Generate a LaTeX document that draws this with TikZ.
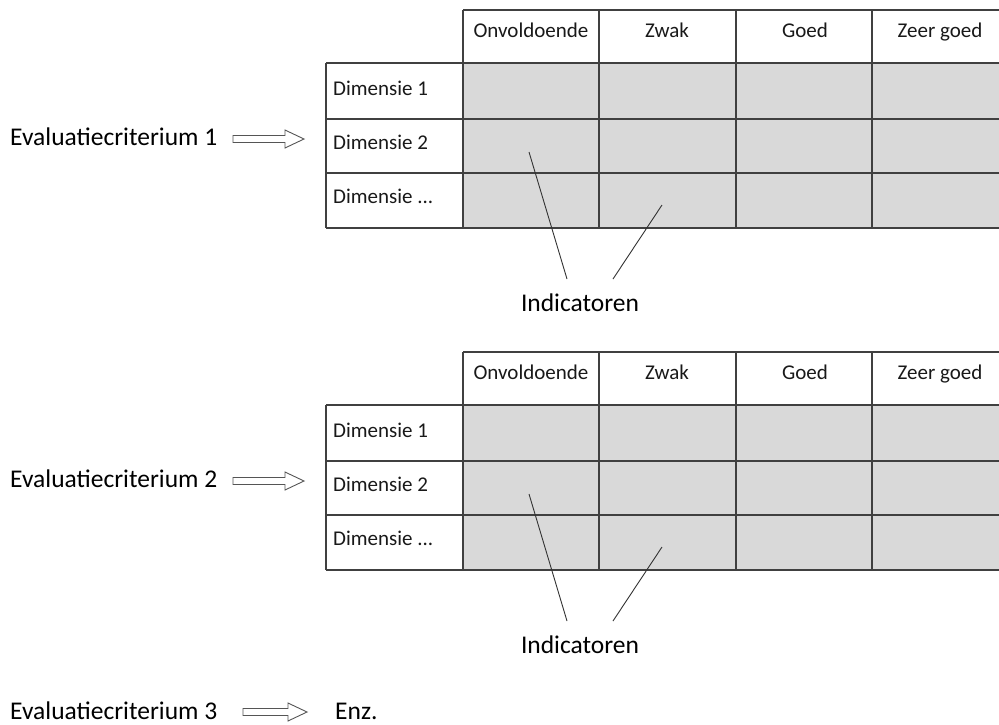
\documentclass[tikz,border=0pt]{standalone}
\usepackage{fontspec}
\setmainfont{Carlito}
\definecolor{cellgray}{HTML}{D9D9D9}
\definecolor{gridline}{HTML}{404040}
\definecolor{arrowline}{HTML}{555555}
\tikzset{
  gridpen/.style={draw=gridline,line width=1.4pt},
  hdr/.style={anchor=base,inner sep=0pt,font=\fontsize{21}{25}\selectfont,text=black!90},
  dimtxt/.style={anchor=base west,inner sep=0pt,font=\fontsize{21}{25}\selectfont,text=black!90},
  bigtxt/.style={anchor=base west,inner sep=0pt,font=\fontsize{25.5}{30}\selectfont},
  indtxt/.style={anchor=base,inner sep=0pt,font=\fontsize{25.5}{30}\selectfont},
  pointer/.style={draw=black!80,line width=0.9pt},
  hollowarrow/.style={draw=arrowline,line width=0.9pt,fill=white,line join=miter}
}
\newcommand\rubrictable[2]{%
  \begin{scope}[shift={(0,#2)}]
    \fill[cellgray] (463,63) rectangle (1008,228);
    \draw[gridpen] (463,10) -- (1008,10);
    \draw[gridpen] (326,63) -- (1008,63);
    \draw[gridpen] (326,119) -- (1008,119);
    \draw[gridpen] (326,173) -- (1008,173);
    \draw[gridpen] (326,228) -- (1008,228);
    \draw[gridpen] (326,63) -- (326,228);
    \draw[gridpen] (463,10) -- (463,228);
    \draw[gridpen] (599,10) -- (599,228);
    \draw[gridpen] (736,10) -- (736,228);
    \draw[gridpen] (872,10) -- (872,228);
    \node[hdr] (#1h1) at (531,37) {Onvoldoende};
    \node[hdr] (#1h2) at (667,37) {Zwak};
    \node[hdr] (#1h3) at (805,37) {Goed};
    \node[hdr] (#1h4) at (940,37) {Zeer goed};
    \node[dimtxt] (#1d1) at (333,95) {Dimensie 1};
    \node[dimtxt] (#1d2) at (333,149) {Dimensie 2};
    \node[dimtxt] (#1d3) at (333,203) {Dimensie ...};
    \node[indtxt] (#1ind) at (580,311) {Indicatoren};
    \coordinate (#1pa) at (529,152);
    \coordinate (#1pb) at (662,205);
    \coordinate (#1qa) at (567,279);
    \coordinate (#1qb) at (613,279);
    \draw[pointer] (#1pa) -- (#1qa);
    \draw[pointer] (#1pb) -- (#1qb);
  \end{scope}%
}
\newcommand\hollowarrowat[3]{% x start, x tip, y center
  \draw[hollowarrow] (#1,#3-3.5) -- (#2-19,#3-3.5) -- (#2-19,#3-9) -- (#2,#3) -- (#2-19,#3+9) -- (#2-19,#3+3.5) -- (#1,#3+3.5) -- cycle;
}
\begin{document}
\begin{tikzpicture}[x=1pt,y=-1pt]
  \useasboundingbox (0,0) rectangle (999,724);
  \fill[white] (0,0) rectangle (999,724);
  \rubrictable{a}{0}
  \rubrictable{b}{342}
  \node[bigtxt] (crit1) at (10,145) {Evaluatiecriterium 1};
  \node[bigtxt] (crit2) at (10,487) {Evaluatiecriterium 2};
  \node[bigtxt] (crit3) at (10,719) {Evaluatiecriterium 3};
  \node[bigtxt] (enz) at (335,719) {Enz.};
  \hollowarrowat{233}{304}{139}
  \hollowarrowat{233}{304}{481}
  \hollowarrowat{243}{307}{712}
\end{tikzpicture}
\end{document}
